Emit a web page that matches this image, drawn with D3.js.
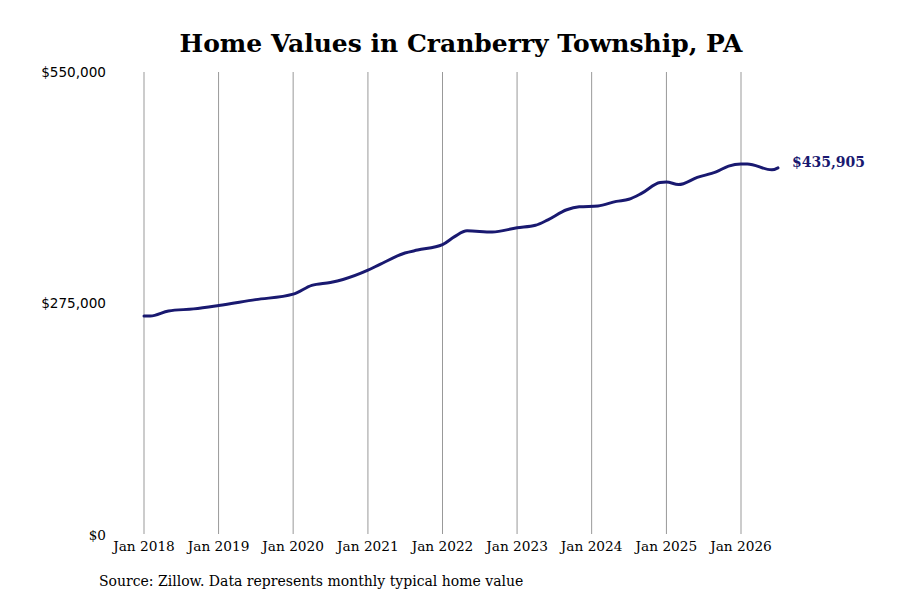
<!DOCTYPE html>
<html>
<head>
<meta charset="utf-8">
<script src="https://cdn.jsdelivr.net/npm/d3@7"></script>
<style>
  body { margin: 0; background: #fff; }
  svg { display: block; }
</style>
</head>
<body>
<div id="chart"></div>
<script>
// monthly typical home value
var dates = ["2018-01","2018-02","2018-05","2018-09","2019-01","2019-07","2020-01","2020-04",
    "2020-07","2020-09","2021-01","2021-03","2021-07","2021-09","2022-01","2022-03","2022-05",
    "2022-09","2023-01","2023-04","2023-06","2023-09","2023-11","2024-02","2024-05","2024-07",
    "2024-09","2024-12","2025-01","2025-03","2025-06","2025-09","2025-11","2026-01","2026-02",
    "2026-06","2026-07"];
var values = [259500,259500,265500,268000,272000,279000,285500,296000,
    299500,303000,314000,321000,334500,338000,344500,354000,361000,
    359500,364500,367500,374000,386000,389500,390500,396000,398500,
    405500,418500,419000,416000,424500,431000,438000,440500,440500,
    433500,435905];
var yTicks = [0, 275000, 550000];
var xTickYears = [2018,2019,2020,2021,2022,2023,2024,2025,2026];

var width = 900, height = 600;
var margin = {top: 72, right: 122, bottom: 66, left: 144};
var parse = d3.timeParse("%Y-%m");
var data = dates.map(function (d, i) { return {date: parse(d), value: values[i]}; });

var svg = d3.select("#chart").append("svg")
    .attr("width", width)
    .attr("height", height);

var xScale = d3.scaleTime()
    .domain([new Date(2018, 0, 1), new Date(2026, 0, 1)])
    .range([margin.left, 741]);
var yScale = d3.scaleLinear()
    .domain([0, 550000])
    .range([height - margin.bottom, margin.top]);

svg.append("text")
    .attr("x", 461)
    .attr("y", 52)
    .attr("text-anchor", "middle")
    .style("font-family", "DejaVu Serif")
    .style("font-weight", "bold")
    .style("font-size", "25px")
    .text("Home Values in Cranberry Township, PA");

// vertical gridlines + year labels
var ticks = xTickYears.map(function (y) { return new Date(y, 0, 1); });
svg.append("g").selectAll("line")
    .data(ticks)
    .enter().append("line")
    .attr("x1", function (d) { return xScale(d); })
    .attr("x2", function (d) { return xScale(d); })
    .attr("y1", yScale(550000))
    .attr("y2", yScale(0))
    .attr("stroke", "#999")
    .attr("stroke-width", 1);

svg.append("g").selectAll("text")
    .data(ticks)
    .enter().append("text")
    .attr("x", function (d) { return xScale(d); })
    .attr("y", 551)
    .attr("text-anchor", "middle")
    .style("font-family", "DejaVu Serif")
    .style("font-size", "13.7px")
    .text(d3.timeFormat("Jan %Y"));

svg.append("g").selectAll("text")
    .data(yTicks)
    .enter().append("text")
    .attr("x", 106)
    .attr("y", function (d) { return yScale(d) + (d === 0 ? 6 : 5); })
    .attr("text-anchor", "end")
    .style("font-family", function (d) { return d === 0 ? "DejaVu Serif" : "DejaVu Sans"; })
    .style("font-size", "13.6px")
    .text(function (d) { return "$" + d3.format(",")(d); });

var line = d3.line()
    .x(function (d) { return xScale(d.date); })
    .y(function (d) { return yScale(d.value); })
    .curve(d3.curveMonotoneX);

svg.append("path")
    .datum(data)
    .attr("d", line)
    .attr("fill", "none")
    .attr("stroke", "#191970")
    .attr("stroke-width", 3)
    .attr("stroke-linecap", "round");

var last = data[data.length - 1];
svg.append("text")
    .attr("x", xScale(last.date) + 14)
    .attr("y", yScale(last.value) - 1)
    .style("font-family", "DejaVu Serif")
    .style("font-weight", "bold")
    .style("font-size", "14px")
    .attr("fill", "#191970")
    .text("$" + d3.format(",")(last.value));

svg.append("text")
    .attr("x", 99)
    .attr("y", 586)
    .style("font-family", "DejaVu Serif")
    .style("font-size", "14px")
    .text("Source: Zillow. Data represents monthly typical home value");
</script>
</body>
</html>
